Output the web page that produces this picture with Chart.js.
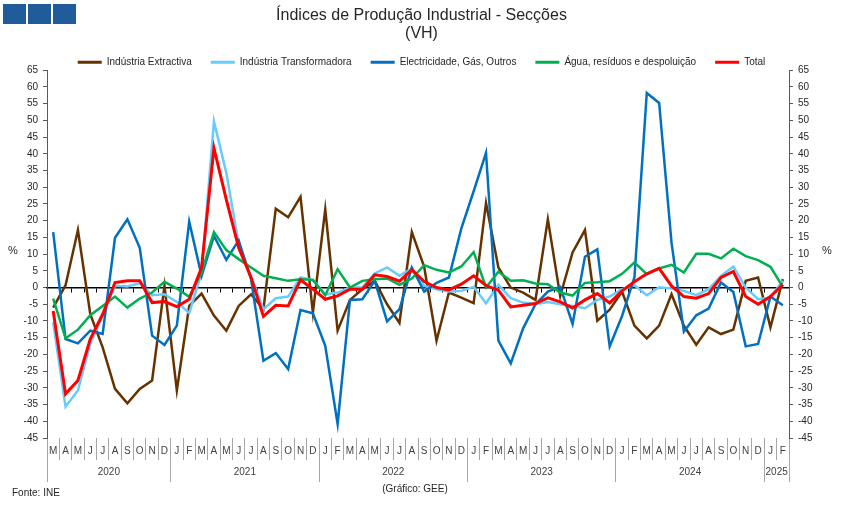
<!DOCTYPE html>
<html>
<head>
<meta charset="utf-8">
<script src="https://cdn.jsdelivr.net/npm/chart.js@4.4.1/dist/chart.umd.min.js"></script>
<style>
    html, body { margin: 0; padding: 0; background: #fff; }
</style>
</head>
<body>
<canvas id="chartIPI" width="843" height="510"></canvas>
<script>
// Meses (Mar 2020 - Fev 2025)
const meses = [
    'M', 'A', 'M', 'J', 'J', 'A', 'S', 'O', 'N', 'D',
    'J', 'F', 'M', 'A', 'M', 'J', 'J', 'A', 'S', 'O', 'N', 'D',
    'J', 'F', 'M', 'A', 'M', 'J', 'J', 'A', 'S', 'O', 'N', 'D',
    'J', 'F', 'M', 'A', 'M', 'J', 'J', 'A', 'S', 'O', 'N', 'D',
    'J', 'F', 'M', 'A', 'M', 'J', 'J', 'A', 'S', 'O', 'N', 'D',
    'J', 'F'
];
const anos = ['2020', '2021', '2022', '2023', '2024', '2025'];
const mesesPorAno = [10, 12, 12, 12, 12, 2];

// Variação homóloga (%)
const extractiva = [
    -6.0, 0.7, 17.2, -8.0, -17.9, -30.3, -34.6, -30.3, -27.8, 0.5,
    -30.8, -5.5, -1.8, -8.4, -12.9, -5.5, -2.0, -6.5, 23.6, 21.0,
    27.1, -7.5, 23.4, -12.9, -3.7, -0.5, 2.0, -5.0, -10.6, 16.6,
    6.2, -15.9, -1.5, -3.0, -4.7, 25.3, 6.0, 0.0, -1.5, -3.7,
    20.4, -2.6, 10.5, 17.2, -9.9, -6.6, -1.2, -11.4, -15.2, -11.4,
    -2.0, -11.4, -17.1, -11.9, -13.9, -12.6, 2.0, 3.0, -11.9, 2.5
];
const transformadora = [
    -10.4, -35.6, -30.8, -16.9, -8.5, 0.5, 0.3, 1.3, -2.3, -2.0,
    -4.3, -7.7, 4.5, 49.7, 34.3, 12.9, 3.5, -6.5, -3.2, -2.7,
    3.0, 2.3, -2.0, -1.5, 0.0, 0.0, 4.2, 6.0, 3.5, 5.7,
    0.5, -0.5, -1.2, -1.0, 0.2, -4.7, 0.8, -3.2, -4.5, -5.0,
    -4.3, -5.0, -5.5, -6.2, -3.7, -2.7, -0.5, 0.7, -2.3, 0.1,
    -0.3, -1.0, -2.3, -0.5, 3.5, 6.3, 0.0, -3.5, -3.0, 2.0
];
const electricidade = [
    16.6, -15.4, -16.7, -12.9, -13.9, 14.9, 20.4, 11.9, -14.4, -17.2,
    -11.4, 19.7, 3.5, 15.4, 8.3, 14.1, 2.5, -21.9, -19.6, -24.4,
    -6.7, -7.7, -17.4, -40.8, -3.7, -3.5, 2.0, -10.1, -6.5, 6.0,
    -1.2, 1.4, 3.0, 17.6, 28.8, 40.3, -15.9, -22.7, -12.2, -5.0,
    -1.2, 0.2, -10.9, 9.2, 11.4, -17.6, -8.5, 3.0, 58.2, 55.2,
    13.4, -13.2, -8.3, -6.3, 1.5, -1.3, -17.6, -16.9, -2.7, -5.3
];
const agua = [
    -3.3, -15.2, -12.6, -8.3, -5.5, -2.7, -6.0, -3.3, -1.5, 1.7,
    -0.3, -2.8, 4.5, 16.6, 11.2, 8.5, 6.0, 3.5, 2.8, 2.0,
    2.5, 2.3, -2.3, 5.5, 0.0, 2.0, 2.5, 2.7, 0.8, 2.7,
    6.7, 5.3, 4.5, 6.3, 10.6, 0.0, 4.7, 2.0, 2.2, 1.2,
    1.0, -1.5, -2.4, 1.4, 1.6, 1.9, 4.1, 7.5, 4.0, 5.7,
    6.8, 4.5, 10.1, 10.1, 8.7, 11.6, 9.4, 8.2, 6.2, 0.2
];
const total = [
    -7.0, -31.8, -27.8, -15.4, -8.0, 1.5, 2.0, 2.0, -4.5, -4.2,
    -5.7, -3.5, 6.0, 41.7, 26.3, 11.9, 3.0, -8.6, -5.3, -5.5,
    2.3, -0.5, -3.5, -2.5, -0.5, -0.5, 3.8, 3.3, 1.9, 5.3,
    1.8, 0.0, -0.7, 1.0, 3.5, 0.6, -0.8, -5.8, -5.3, -4.8,
    -3.1, -4.3, -6.1, -3.7, -1.8, -4.6, -1.0, 1.7, 4.1, 5.7,
    0.5, -2.7, -3.2, -1.8, 3.0, 4.8, -2.7, -5.0, -2.7, 0.9
];

// Limites e centros dos anos no eixo (em índices de categoria)
const limitesAno = [-0.5];
const centrosAno = [];
mesesPorAno.forEach(n => {
    const ini = limitesAno[limitesAno.length - 1];
    centrosAno.push(ini + n / 2);
    limitesAno.push(ini + n);
});
const marcasAno = limitesAno.concat(centrosAno).sort((a, b) => a - b);

const fonte = '"Liberation Sans", Arial, sans-serif';
Chart.defaults.font.family = fonte;
Chart.defaults.color = '#262626';

const extras = {
    id: 'extras',
    afterDraw(chart) {
        const ctx = chart.ctx;
        ctx.save();
        // logótipo
        ctx.fillStyle = '#1f5c99';
        [3, 28, 53].forEach(x => ctx.fillRect(x, 4, 23, 20));
        ctx.fillStyle = '#262626';
        ctx.font = '11px ' + fonte;
        ctx.textBaseline = 'middle';
        ctx.textAlign = 'center';
        ctx.fillText('%', 13, 251);
        ctx.fillText('%', 827, 251);
        ctx.font = '10px ' + fonte;
        ctx.textAlign = 'left';
        ctx.fillText('Fonte: INE', 12, 493);
        ctx.textAlign = 'center';
        ctx.fillText('(Gráfico: GEE)', 415, 489);
        ctx.restore();
    }
};

function serie(nome, dados, cor, largura, ordem) {
    return {
        label: nome,
        data: dados,
        borderColor: cor,
        backgroundColor: cor,
        borderWidth: largura,
        pointRadius: 0,
        tension: 0,
        order: ordem
    };
}

const eixoY = (pos, larg) => ({
    position: pos,
    min: -45,
    max: 65,
    ticks: { stepSize: 5, padding: 5, font: { size: 10 }, color: '#262626' },
    grid: { drawOnChartArea: false, tickLength: 4, color: '#595959' },
    border: { color: '#595959' },
    afterFit: s => { s.width = larg; }
});

new Chart(document.getElementById('chartIPI'), {
    type: 'line',
    data: {
        labels: meses,
        datasets: [
            serie('Indústria Extractiva', extractiva, '#663300', 2.5, 5),
            serie('Indústria Transformadora', transformadora, '#66ccff', 2.5, 4),
            serie('Electricidade, Gás, Outros', electricidade, '#0070c0', 2.5, 3),
            serie('Água, resíduos e despoluição', agua, '#00b050', 2.5, 2),
            serie('Total', total, '#ff0000', 3, 1)
        ]
    },
    options: {
        responsive: false,
        animation: false,
        events: [],
        layout: { padding: { top: 0, bottom: 28, left: 0, right: 0 } },
        plugins: {
            tooltip: { enabled: false },
            title: {
                display: true,
                text: ['Índices de Produção Industrial - Secções', '(VH)'],
                color: '#262626',
                font: { size: 16, weight: 'normal', lineHeight: 1.1 },
                padding: { top: 7, bottom: -4 }
            },
            legend: {
                position: 'top',
                maxHeight: 32,
                labels: {
                    boxWidth: 24,
                    boxHeight: 3,
                    padding: 19,
                    color: '#262626',
                    font: { size: 10 },
                    sort: (a, b) => a.datasetIndex - b.datasetIndex,
                    generateLabels: chart => Chart.defaults.plugins.legend.labels.generateLabels(chart)
                        .map(l => Object.assign(l, { lineWidth: 0 }))
                }
            }
        },
        scales: {
            x: {
                type: 'category',
                offset: true,
                position: 'bottom',
                weight: 0,
                grid: { offset: true, drawOnChartArea: false, tickLength: 22, color: '#a6a6a6' },
                border: { display: false },
                ticks: { autoSkip: false, maxRotation: 0, padding: -15, color: '#404040', font: { size: 10 } },
                afterFit: s => { s.height = 22; }
            },
            xAno: {
                type: 'linear',
                axis: 'x',
                position: 'bottom',
                weight: 1,
                min: -0.5,
                max: meses.length - 0.5,
                afterBuildTicks: s => { s.ticks = marcasAno.map(v => ({ value: v })); },
                grid: {
                    drawOnChartArea: false,
                    tickLength: 22,
                    color: c => (c.tick && limitesAno.includes(c.tick.value)) ? '#a6a6a6' : 'rgba(0,0,0,0)'
                },
                border: { display: false },
                ticks: {
                    autoSkip: false,
                    maxRotation: 0,
                    padding: -16,
                    color: '#404040',
                    font: { size: 10 },
                    callback: v => {
                        const i = centrosAno.indexOf(v);
                        return i >= 0 ? anos[i] : '';
                    }
                },
                afterFit: s => { s.height = 22; }
            },
            xZero: {
                type: 'category',
                labels: meses,
                offset: true,
                position: { y: 0 },
                grid: { offset: true, drawOnChartArea: false, tickLength: 4, color: '#000' },
                border: { color: '#000', width: 1.5 },
                ticks: { display: false }
            },
            y: eixoY('left', 47),
            y2: eixoY('right', 54)
        }
    },
    plugins: [extras]
});
</script>
</body>
</html>
